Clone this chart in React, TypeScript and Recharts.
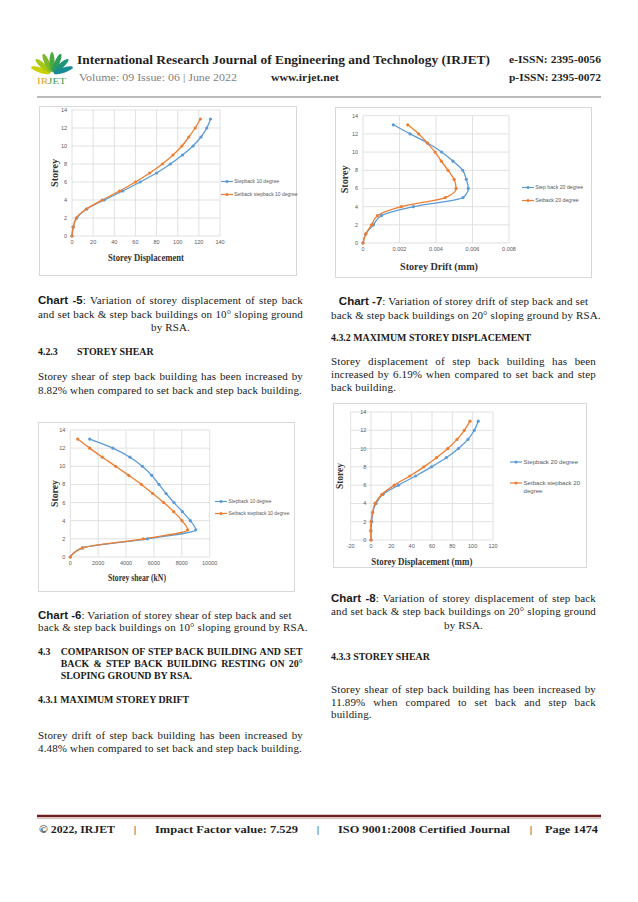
import { CartesianGrid, Legend, Line, LineChart, XAxis, YAxis } from "recharts";

// storeys are shared by all four charts
const storeys = [0, 1, 2, 3, 4, 5, 6, 7, 8, 9, 10, 11, 12, 13];
const storeyTicks = [0, 2, 4, 6, 8, 10, 12, 14];
const seriesOrder = ["stepback", "setback"];

// Chart -5: storey displacement, 10 degree
const disp10Ticks = [0, 20, 40, 60, 80, 100, 120, 140];
const disp10Stepback = [0, 1, 4.5, 14, 30.5, 48, 64.5, 80, 93, 104.5, 114.5, 122, 127.5, 131];
const disp10Setback = [0, 1.3, 4, 13.5, 28.5, 45, 60, 73.5, 85.5, 95.5, 104, 110.5, 116.5, 121.5];

// Chart -6: storey shear, 10 degree
const shear10Ticks = [0, 2000, 4000, 6000, 8000, 10000];
const shear10Stepback = [0, 890, 5530, 9000, 8610, 8040, 7440, 6870, 6360, 5840, 5170, 4280, 3060, 1390];
const shear10Setback = [0, 860, 5240, 8420, 8010, 7420, 6700, 5910, 5100, 4190, 3250, 2300, 1390, 530];

// Chart -7: storey drift, 20 degree
const drift20Ticks = [0, 0.002, 0.004, 0.006, 0.008];
const drift20Stepback = [0, 0.00016, 0.00057, 0.001, 0.00276, 0.00548, 0.00577, 0.00566, 0.00546, 0.00493, 0.00431, 0.00354, 0.00258, 0.00166];
const drift20Setback = [0, 0.00015, 0.00047, 0.00079, 0.0021, 0.00451, 0.0051, 0.00499, 0.00466, 0.00429, 0.00395, 0.00352, 0.00305, 0.00245];

// Chart -8: storey displacement, 20 degree
const disp20Ticks = [-20, 0, 20, 40, 60, 80, 100, 120];
const disp20Stepback = [0, 0, 0.7, 1.6, 4.9, 11.8, 27, 43.8, 59.5, 74, 86, 95.4, 101.6, 105.5];
const disp20Setback = [0, -0.5, 0, 1.6, 3.9, 10.8, 22.9, 38.2, 52, 64.4, 75.5, 84.6, 91.8, 97.4];

const BLUE = "#5b9bd5";
const ORANGE = "#ed7d31";
const SANS = "'Liberation Sans', Arial, sans-serif";
const SERIF = "'Liberation Serif', 'Times New Roman', serif";

function toRows(stepback: number[], setback: number[]) {
  return storeys.map((storey, i) => ({ storey, stepback: stepback[i], setback: setback[i] }));
}

const titleStyle = { fontFamily: SERIF, fontWeight: 700, fontSize: 10, fill: "#333" };

function XTitle({ viewBox, text, length, dy, dx = 0 }: any) {
  const { x, y, width } = viewBox;
  return (
    <text
      x={x + width / 2 + dx}
      y={y + dy}
      textAnchor="middle"
      dominantBaseline="central"
      textLength={length}
      lengthAdjust="spacingAndGlyphs"
      style={titleStyle}
    >
      {text}
    </text>
  );
}

function YTitle({ viewBox, length, gap }: any) {
  const cx = viewBox.x + viewBox.width - gap;
  const cy = viewBox.y + viewBox.height / 2;
  return (
    <text
      x={cx}
      y={cy}
      transform={`rotate(-90 ${cx} ${cy})`}
      textAnchor="middle"
      dominantBaseline="central"
      textLength={length}
      lengthAdjust="spacingAndGlyphs"
      style={titleStyle}
    >
      Storey
    </text>
  );
}

function SeriesKey({ payload, fontSize, lineHeight, gap, textWidth }: any) {
  return (
    <div
      style={{
        display: "flex",
        flexDirection: "column",
        gap,
        fontFamily: SANS,
        fontSize,
        lineHeight: `${lineHeight}px`,
        color: "#595959",
      }}
    >
      {(payload ?? []).map((entry: any) => (
        <div key={entry.value} style={{ display: "flex", alignItems: "flex-start" }}>
          <svg width={12} height={lineHeight} style={{ flex: "none" }}>
            <line x1={0} x2={12} y1={lineHeight / 2} y2={lineHeight / 2} stroke={entry.color} strokeWidth={1.2} />
            <circle cx={6} cy={lineHeight / 2} r={1.5} fill={entry.color} />
          </svg>
          <span style={{ marginLeft: 1.5, width: textWidth }}>{entry.value}</span>
        </div>
      ))}
    </div>
  );
}

type ChartProps = {
  left: number;
  top: number;
  width: number;
  height: number;
  gap: { left: number; right: number; top: number; bottom: number };
  rows: { storey: number; stepback: number; setback: number }[];
  xTicks: number[];
  names: [string, string];
  xTitle: string;
  xTitleLength: number;
  xTitleDy: number;
  xTitleDx?: number;
  yTitleGap: number;
  yTitleLength: number;
  yTickDx?: number;
  legend: { left: number; top: number; width: number; fontSize: number; lineHeight: number; gap: number; textWidth: number };
};

function StoreyChart(p: ChartProps) {
  const tick = { fill: "#595959", fontSize: 5.5, fontFamily: SANS };
  const { legend } = p;
  return (
    <div
      style={{
        position: "absolute",
        left: p.left,
        top: p.top,
        width: p.width,
        height: p.height,
        outline: "1px solid #d9d9d9",
        outlineOffset: -1,
      }}
    >
      <LineChart
        layout="vertical"
        width={p.width}
        height={p.height}
        data={p.rows}
        margin={{ top: p.gap.top, right: p.gap.right, bottom: 0, left: 0 }}
      >
        <CartesianGrid stroke="#d9d9d9" strokeWidth={0.8} />
        <XAxis
          type="number"
          domain={[p.xTicks[0], p.xTicks[p.xTicks.length - 1]]}
          ticks={p.xTicks}
          interval={0}
          height={p.gap.bottom}
          axisLine={false}
          tickLine={false}
          tickSize={3}
          tickMargin={1.5}
          tick={tick}
          label={{
            content: (lp: any) => (
              <XTitle viewBox={lp.viewBox} text={p.xTitle} length={p.xTitleLength} dy={p.xTitleDy} dx={p.xTitleDx} />
            ),
          }}
        />
        <YAxis
          type="number"
          dataKey="storey"
          reversed
          domain={[0, 14]}
          ticks={storeyTicks}
          interval={0}
          width={p.gap.left}
          axisLine={false}
          tickLine={false}
          tickSize={3}
          tickMargin={2}
          tick={{ ...tick, dx: p.yTickDx ?? 0 }}
          label={{
            content: (lp: any) => <YTitle viewBox={lp.viewBox} length={p.yTitleLength} gap={p.yTitleGap} />,
          }}
        />
        <Legend
          layout="vertical"
          align="center"
          verticalAlign="middle"
          itemSorter={(item: any) => seriesOrder.indexOf(item.dataKey)}
          wrapperStyle={{ left: legend.left, top: legend.top, width: legend.width }}
          content={(lp: any) => <SeriesKey payload={lp.payload} {...legend} />}
        />
        <Line
          type="monotone"
          dataKey="stepback"
          name={p.names[0]}
          stroke={BLUE}
          strokeWidth={1.3}
          dot={{ r: 1.6, fill: BLUE, stroke: BLUE, strokeWidth: 0 }}
          isAnimationActive={false}
        />
        <Line
          type="monotone"
          dataKey="setback"
          name={p.names[1]}
          stroke={ORANGE}
          strokeWidth={1.3}
          dot={{ r: 1.6, fill: ORANGE, stroke: ORANGE, strokeWidth: 0 }}
          isAnimationActive={false}
        />
      </LineChart>
    </div>
  );
}

function TextRow({ x, y, w, align = "left", bold = false, children }: any) {
  return (
    <div
      style={{
        position: "absolute",
        left: x,
        top: y - 6.5,
        width: w,
        height: 13,
        lineHeight: "13px",
        whiteSpace: "nowrap",
        textAlign: align,
        textAlignLast: align,
        fontWeight: bold ? 700 : 400,
        fontSize: bold ? 9.9 : 11,
        letterSpacing: bold ? 0 : 0.15,
      }}
    >
      {children}
    </div>
  );
}

function ChartTag({ children }: any) {
  return <span style={{ fontFamily: SANS, fontWeight: 700, fontSize: 11.5, letterSpacing: 0 }}>{children}</span>;
}

const L = 38;
const R = 331;
const COL = 265;

function Header() {
  const leafColors = ["#c9d200", "#a6c814", "#7dba2a", "#4caa3c", "#2e9d5a", "#1f9478", "#178c94"];
  return (
    <svg width={638} height={100} style={{ position: "absolute", left: 0, top: 0 }}>
      <g>
        {leafColors.map((c, i) => {
          const angle = -72 + i * 24;
          return (
            <ellipse
              key={c}
              cx={52}
              cy={62}
              rx={2.6}
              ry={10}
              fill={c}
              transform={`rotate(${angle} 52 74)`}
            />
          );
        })}
        <text x={37} y={84} style={{ fontFamily: SERIF, fontSize: 9 }} textLength={29} lengthAdjust="spacingAndGlyphs">
          <tspan fill="#e2a21c">IR</tspan>
          <tspan fill="#3c9e4a">JET</tspan>
        </text>
      </g>
      <g style={{ fontFamily: SERIF }}>
        <text x={77} y={63.5} fontSize={13} fontWeight={700} fill="#1f1f1f" textLength={413} lengthAdjust="spacingAndGlyphs">
          International Research Journal of Engineering and Technology (IRJET)
        </text>
        <text x={509} y={63} fontSize={11} fontWeight={700} fill="#1f1f1f" textLength={92} lengthAdjust="spacingAndGlyphs">
          e-ISSN: 2395-0056
        </text>
        <text x={79} y={80.5} fontSize={11} fill="#7f7f7f" textLength={158} lengthAdjust="spacingAndGlyphs">
          Volume: 09 Issue: 06 | June 2022
        </text>
        <text x={271} y={80.5} fontSize={11} fontWeight={700} fill="#1f1f1f" textLength={68} lengthAdjust="spacingAndGlyphs">
          www.irjet.net
        </text>
        <text x={509} y={80.5} fontSize={11} fontWeight={700} fill="#1f1f1f" textLength={92} lengthAdjust="spacingAndGlyphs">
          p-ISSN: 2395-0072
        </text>
      </g>
      <line x1={37} x2={601} y1={97} y2={97} stroke="#a6a6a6" strokeWidth={1.5} />
    </svg>
  );
}

function Footer() {
  const items: [string, number, number][] = [
    ["© 2022, IRJET", 39, 76],
    ["|", 134, 2],
    ["Impact Factor value: 7.529", 155, 143],
    ["|", 317, 2],
    ["ISO 9001:2008 Certified Journal", 338, 172],
    ["|", 530, 2],
    ["Page 1474", 545, 53],
  ];
  return (
    <svg width={638} height={50} style={{ position: "absolute", left: 0, top: 800 }}>
      <line x1={37} x2={601} y1={16} y2={16} stroke="#6d1f1f" strokeWidth={2.6} />
      <line x1={37} x2={601} y1={18.6} y2={18.6} stroke="#c9a9a9" strokeWidth={0.8} />
      {items.map(([t, x, len]) => (
        <text
          key={t + x}
          x={x}
          y={33}
          fontSize={11}
          fontWeight={700}
          fill="#1f1f1f"
          style={{ fontFamily: SERIF }}
          textLength={len}
          lengthAdjust="spacingAndGlyphs"
        >
          {t}
        </text>
      ))}
    </svg>
  );
}

export default function App() {
  return (
    <div
      style={{
        position: "absolute",
        left: 0,
        top: 0,
        width: 638,
        height: 902,
        background: "#fff",
        fontFamily: SERIF,
        fontSize: 11,
        color: "#1a1a1a",
        overflow: "hidden",
      }}
    >
      <Header />

      <StoreyChart
        left={39}
        top={106}
        width={258}
        height={170}
        gap={{ left: 33, right: 77, top: 4, bottom: 40 }}
        rows={toRows(disp10Stepback, disp10Setback)}
        xTicks={disp10Ticks}
        names={["Stepback 10 degree", "Setback stepback 10 degree"]}
        xTitle="Storey Displacement"
        xTitleLength={76}
        xTitleDy={21}
        yTitleGap={18}
        yTitleLength={28}
        legend={{ left: 181.7, top: 71.5, width: 78, fontSize: 5, lineHeight: 7, gap: 6, textWidth: 70 }}
      />

      <StoreyChart
        left={335}
        top={107}
        width={257}
        height={171}
        gap={{ left: 28, right: 83, top: 8.7, bottom: 35 }}
        rows={toRows(drift20Stepback, drift20Setback)}
        xTicks={drift20Ticks}
        names={["Step back 20 degree", "Setback 20 degree"]}
        xTitle="Storey Drift (mm)"
        xTitleLength={78}
        xTitleDy={23}
        xTitleDx={3}
        yTitleGap={18}
        yTitleLength={28}
        legend={{ left: 186.7, top: 76.5, width: 70, fontSize: 5.2, lineHeight: 7, gap: 6, textWidth: 58 }}
      />

      <StoreyChart
        left={38}
        top={422}
        width={257}
        height={170}
        gap={{ left: 32.3, right: 85.3, top: 8, bottom: 35 }}
        rows={toRows(shear10Stepback, shear10Setback)}
        xTicks={shear10Ticks}
        names={["Stepback 10 degree", "Setback stepback 10 degree"]}
        xTitle="Storey shear (kN)"
        xTitleLength={58}
        xTitleDy={20}
        xTitleDx={-3}
        yTitleGap={16}
        yTitleLength={27}
        legend={{ left: 177, top: 75.5, width: 80, fontSize: 4.8, lineHeight: 7, gap: 5, textWidth: 66 }}
      />

      <StoreyChart
        left={333}
        top={403}
        width={254}
        height={165}
        gap={{ left: 17.7, right: 94, top: 9, bottom: 28 }}
        rows={toRows(disp20Stepback, disp20Setback)}
        xTicks={disp20Ticks}
        names={["Stepback 20 degree", "Setback stepback 20 degree"]}
        xTitle="Storey Displacement (mm)"
        xTitleLength={101}
        xTitleDy={21}
        yTitleGap={11}
        yTitleLength={26}
        yTickDx={20.6}
        legend={{ left: 177, top: 55, width: 77, fontSize: 6.1, lineHeight: 8, gap: 13, textWidth: 62 }}
      />

      {/* left column */}
      <TextRow x={L} y={300.7} w={COL} align="justify">
        <ChartTag>Chart -5</ChartTag>: Variation of storey displacement of step back
      </TextRow>
      <TextRow x={L} y={314} w={COL} align="justify">
        and set back &amp; step back buildings on 10° sloping ground
      </TextRow>
      <TextRow x={L} y={327} w={COL} align="center">
        by RSA.
      </TextRow>
      <TextRow x={L} y={351.7} w={40} bold>
        4.2.3
      </TextRow>
      <TextRow x={77} y={351.7} w={200} bold>
        STOREY SHEAR
      </TextRow>
      <TextRow x={L} y={376.7} w={COL} align="justify">
        Storey shear of step back building has been increased by
      </TextRow>
      <TextRow x={L} y={390} w={COL}>
        8.82% when compared to set back and step back building.
      </TextRow>

      <TextRow x={L} y={615} w={COL}>
        <ChartTag>Chart -6</ChartTag>: Variation of storey shear of step back and set
      </TextRow>
      <TextRow x={L} y={627.5} w={COL}>
        back &amp; step back buildings on 10° sloping ground by RSA.
      </TextRow>
      <TextRow x={L} y={651} w={22} bold>
        4.3
      </TextRow>
      <TextRow x={60.7} y={651} w={242} align="justify" bold>
        COMPARISON OF STEP BACK BUILDING AND SET
      </TextRow>
      <TextRow x={60.7} y={663.3} w={242} align="justify" bold>
        BACK &amp; STEP BACK BUILDING RESTING ON 20°
      </TextRow>
      <TextRow x={60.7} y={675.7} w={242} bold>
        SLOPING GROUND BY RSA.
      </TextRow>
      <TextRow x={L} y={699} w={COL} bold>
        4.3.1 MAXIMUM STOREY DRIFT
      </TextRow>
      <TextRow x={L} y={735.7} w={COL} align="justify">
        Storey drift of step back building has been increased by
      </TextRow>
      <TextRow x={L} y={748} w={COL}>
        4.48% when compared to set back and step back building.
      </TextRow>

      {/* right column */}
      <TextRow x={R} y={301.7} w={COL} align="center">
        <ChartTag>Chart -7</ChartTag>: Variation of storey drift of step back and set
      </TextRow>
      <TextRow x={R} y={315} w={COL} align="center">
        back &amp; step back buildings on 20° sloping ground by RSA.
      </TextRow>
      <TextRow x={R} y={337.7} w={COL} bold>
        4.3.2 MAXIMUM STOREY DISPLACEMENT
      </TextRow>
      <TextRow x={R} y={361.7} w={COL} align="justify">
        Storey displacement of step back building has been
      </TextRow>
      <TextRow x={R} y={374.7} w={COL} align="justify">
        increased by 6.19% when compared to set back and step
      </TextRow>
      <TextRow x={R} y={387.5} w={COL}>
        back building.
      </TextRow>

      <TextRow x={R} y={598.3} w={COL} align="justify">
        <ChartTag>Chart -8</ChartTag>: Variation of storey displacement of step back
      </TextRow>
      <TextRow x={R} y={611.7} w={COL} align="justify">
        and set back &amp; step back buildings on 20° sloping ground
      </TextRow>
      <TextRow x={R} y={625} w={COL} align="center">
        by RSA.
      </TextRow>
      <TextRow x={R} y={656} w={COL} bold>
        4.3.3 STOREY SHEAR
      </TextRow>
      <TextRow x={R} y={689} w={COL} align="justify">
        Storey shear of step back building has been increased by
      </TextRow>
      <TextRow x={R} y={702} w={COL} align="justify">
        11.89% when compared to set back and step back
      </TextRow>
      <TextRow x={R} y={714.5} w={COL}>
        building.
      </TextRow>

      <Footer />
    </div>
  );
}
